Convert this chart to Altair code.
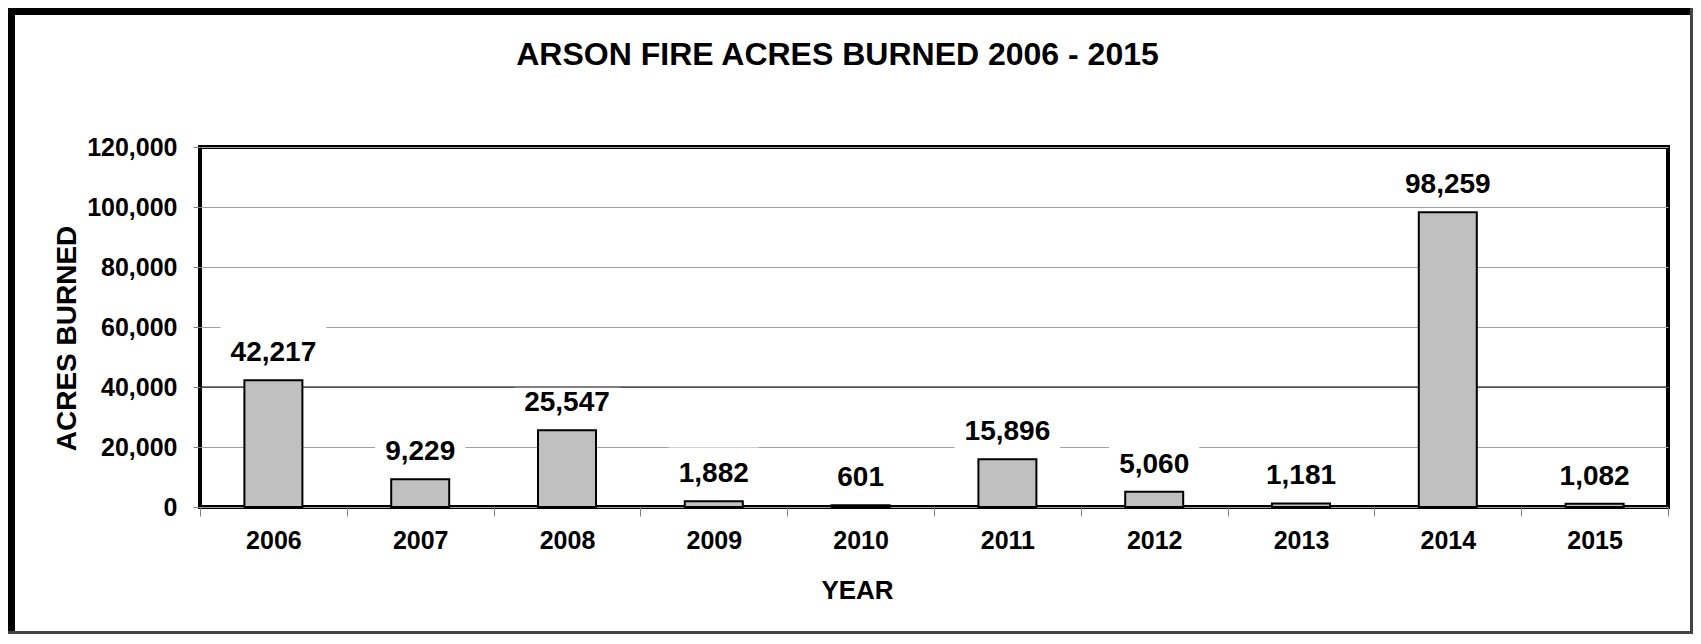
import altair as alt
import pandas as pd

years = ["2006", "2007", "2008", "2009", "2010", "2011", "2012", "2013", "2014", "2015"]
acres = [42217, 9229, 25547, 1882, 601, 15896, 5060, 1181, 98259, 1082]
y_ticks = [0, 20000, 40000, 60000, 80000, 100000, 120000]
highlight_line = [40000]
title_text = ["ARSON FIRE ACRES BURNED 2006 - 2015"]

FONT = "Liberation Sans"

labels = [f"{v:,}" for v in acres]
df = pd.DataFrame({"year": years, "acres": acres, "label": labels})
# width of the white box behind each value label (text width + padding)
df["boxw"] = [sum(15.6 if ch.isdigit() else 7.8 for ch in s) + 20 for s in labels]
hl = pd.DataFrame({"v": highlight_line})
tdf = pd.DataFrame({"t": title_text})

W, H = 1468, 360
PL, PT, PR, PB = 192, 139, 25, 127

x_enc = alt.X(
    "year:N",
    sort=years,
    scale=alt.Scale(paddingInner=0, paddingOuter=0),
    axis=alt.Axis(
        title="YEAR",
        titleFont=FONT, titleFontSize=26, titleFontWeight="bold", titleColor="black",
        titleX=657, titleY=91, titleBaseline="alphabetic", titleAlign="center",
        labelFont=FONT, labelFontSize=25, labelFontWeight="bold", labelColor="black",
        labelAngle=0, labelPadding=12,
        tickBand="extent", tickSize=9, tickColor="#808080", tickWidth=1,
        domain=False, grid=False,
    ),
)
y_scale = alt.Scale(domain=[0, 120000], nice=False)
y_axis = alt.Axis(
    title="ACRES BURNED", values=y_ticks, format=",d",
    labelExpr="format(datum.value, ',d')",
    titleFont=FONT, titleFontSize=28, titleFontWeight="bold", titleColor="black",
    titleX=-125, titleY=191, titleAngle=270, titleBaseline="alphabetic", titleAlign="center",
    labelFont=FONT, labelFontSize=25, labelFontWeight="bold", labelColor="black",
    labelPadding=16, tickSize=7, tickColor="#808080", tickWidth=1,
    domain=False, grid=True, gridColor="#a0a0a0", gridWidth=1,
)

base = alt.Chart(df)

boxes = base.mark_bar(color="white", yOffset=-7, y2Offset=-53.8).encode(
    x=x_enc,
    y=alt.Y("acres:Q", scale=y_scale, axis=y_axis),
    y2="acres:Q",
    size=alt.Size("boxw:Q", scale=None, legend=None),
)

hl_rule = alt.Chart(hl).mark_rule(color="black", strokeWidth=1).encode(
    y=alt.Y("v:Q", scale=y_scale, axis=y_axis)
)

bars = base.mark_bar(width=58, color="#c0c0c0", stroke="black", strokeWidth=2).encode(
    x=alt.X("year:N", sort=years),
    y=alt.Y("acres:Q", scale=y_scale, axis=y_axis),
)

texts = base.mark_text(
    font=FONT, fontSize=28, fontWeight="bold", color="black",
    baseline="alphabetic", align="center", dy=-19,
).encode(
    x=alt.X("year:N", sort=years),
    y=alt.Y("acres:Q", scale=y_scale, axis=y_axis),
    text="label:N",
)

# chart title (placed as text so the decorative frame does not push it away)
title = alt.Chart(tdf).mark_text(
    font=FONT, fontSize=32, fontWeight="bold", color="black",
    baseline="alphabetic", align="center",
).encode(x=alt.value(637.5), y=alt.value(-82), text="t:N")

# outer frame (decoration)
frame_left = alt.Chart(hl).mark_rule(color="black", strokeWidth=7).encode(
    x=alt.value(-PL + 3.5), y=alt.value(-PT), y2=alt.value(H + PB))
frame_top = alt.Chart(hl).mark_rule(color="black", strokeWidth=7).encode(
    x=alt.value(-PL), x2=alt.value(W + PR), y=alt.value(-PT + 3.5))
frame_right = alt.Chart(hl).mark_rule(color="#444444", strokeWidth=3).encode(
    x=alt.value(W + PR - 1.5), y=alt.value(-PT), y2=alt.value(H + PB))
frame_bottom = alt.Chart(hl).mark_rule(color="#444444", strokeWidth=3).encode(
    x=alt.value(-PL), x2=alt.value(W + PR), y=alt.value(H + PB - 1.5))

chart = alt.layer(
    boxes, hl_rule, bars, texts, title, frame_left, frame_top, frame_right, frame_bottom
).properties(
    width=W, height=H,
    autosize=alt.AutoSizeParams(type="none"),
    padding={"left": PL, "top": PT, "right": PR, "bottom": PB},
).configure(
    background="white",
    view=alt.ViewConfig(stroke="black", strokeWidth=4),
)

chart.save("out.html", embed_options={"renderer": "svg", "actions": False})
